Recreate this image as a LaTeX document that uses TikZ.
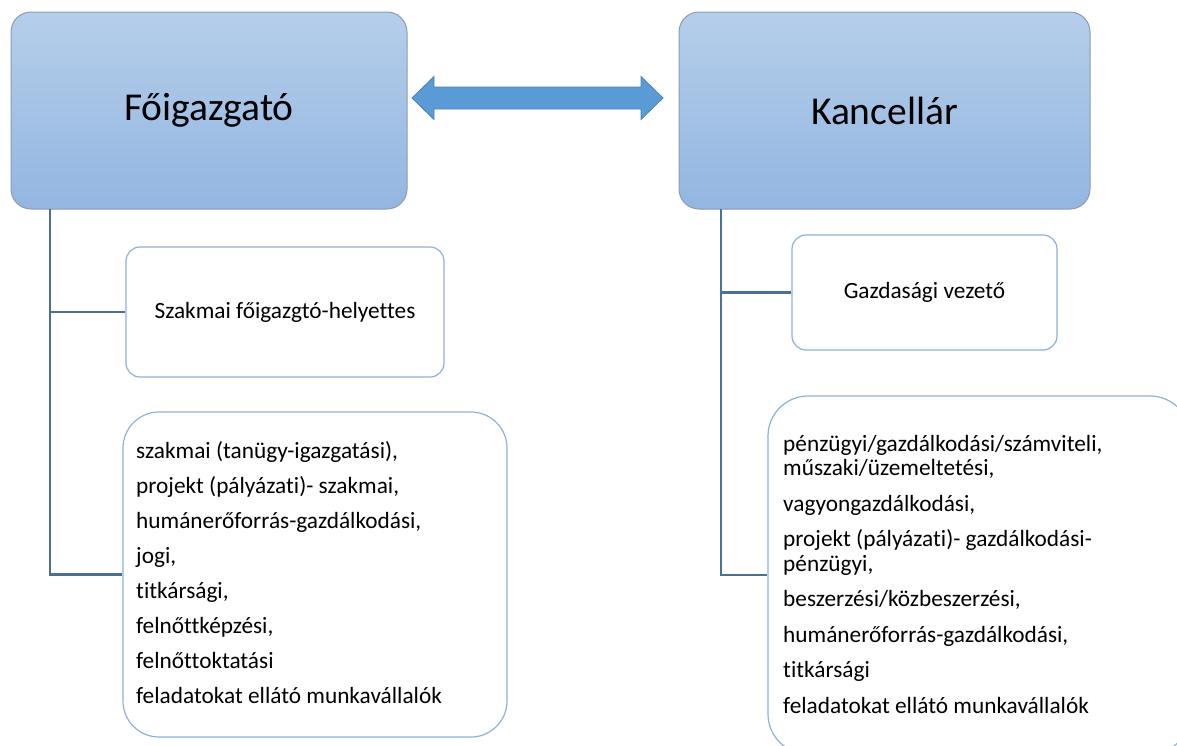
\documentclass[tikz,border=0pt]{standalone}
\usepackage{fontspec}
\setmainfont{Carlito}[Ligatures={NoCommon}]
\usetikzlibrary{calc}
\definecolor{topA}{HTML}{B5CEEA}
\definecolor{topB}{HTML}{93B6E1}
\definecolor{topLine}{HTML}{8A9CB3}
\definecolor{boxLine}{HTML}{8FB1D9}
\definecolor{connLine}{HTML}{4C6F97}
\definecolor{arrFill}{HTML}{5B9BD5}
\definecolor{arrLine}{HTML}{4A82B8}
\tikzset{
  headbox/.style={rectangle, rounded corners=20pt, top color=topA, bottom color=topB, draw=topLine, line width=1pt, inner sep=0pt, font=\fontsize{39.5}{45}\selectfont},
  subbox/.style={rectangle, rounded corners=14pt, draw=boxLine, line width=1.2pt, fill=white, inner sep=0pt, font=\fontsize{23.3}{28}\selectfont},
  listbox/.style={rectangle, rounded corners=36pt, draw=boxLine, line width=1.2pt, fill=white, inner sep=0pt},
  listtext/.style={anchor=west, inner sep=0pt, align=left},
  conn/.style={draw=connLine, line width=2.2pt},
}
\begin{document}
\begin{tikzpicture}[x=1pt,y=-1pt]
\useasboundingbox (0,0) rectangle (1177,745);
\clip (0,0) rectangle (1177,745);
% head boxes
\node[headbox, minimum width=396pt, minimum height=197pt] (fo) at (209,110.5) {Főigazgató};
\node[headbox, minimum width=411pt, minimum height=197pt] (ka) at (884.5,110.5) {Kancellár};
% double arrow
\coordinate (L) at (412,98);
\coordinate (R) at (663,98);
\filldraw[fill=arrFill, draw=arrLine, line width=0.8pt]
  (L) -- ($(L)+(22,-21.5)$) -- ($(L)+(22,-11)$) -- ($(R)+(-22,-11)$) -- ($(R)+(-22,-21.5)$)
  -- (R) -- ($(R)+(-22,21.5)$) -- ($(R)+(-22,11)$) -- ($(L)+(22,11)$) -- ($(L)+(22,21.5)$) -- cycle;
% left branch
\node[subbox, minimum width=318pt, minimum height=130pt] (sz) at (285,312) {Szakmai főigazgtó-helyettes};
\node[listbox, minimum width=384pt, minimum height=325pt] (lb) at (315,574.5) {};
\node[listtext, font=\fontsize{23.3}{35}\selectfont] (lt) at (136,573) {szakmai (tanügy-igazgatási),\\
projekt (pályázati)- szakmai,\\
humánerőforrás-gazdálkodási,\\
jogi,\\
titkársági,\\
felnőttképzési,\\
felnőttoktatási\\
feladatokat ellátó munkavállalók};
\coordinate (lk) at (50,209);
\draw[conn] (lk) -- (lk |- lb.west) -- (lb.west);
\draw[conn] (lk |- sz.west) -- (sz.west);
% right branch
\node[subbox, minimum width=265pt, minimum height=115pt] (gv) at (924.5,292.5) {Gazdasági vezető};
\node[listbox, rounded corners=40pt, minimum width=422pt, minimum height=358pt] (rb) at (979,575) {};
\node[listtext, font=\fontsize{23.3}{24.5}\selectfont] (rt) at (783,574) {pénzügyi/gazdálkodási/számviteli,\\
műszaki/üzemeltetési,\\[11pt]
vagyongazdálkodási,\\[11pt]
projekt (pályázati)- gazdálkodási-\\
pénzügyi,\\[11pt]
beszerzési/közbeszerzési,\\[11pt]
humánerőforrás-gazdálkodási,\\[11pt]
titkársági\\[11pt]
feladatokat ellátó munkavállalók};
\coordinate (rk) at (721,209);
\draw[conn] (rk) -- (rk |- rb.west) -- (rb.west);
\draw[conn] (rk |- gv.west) -- (gv.west);
\end{tikzpicture}
\end{document}
